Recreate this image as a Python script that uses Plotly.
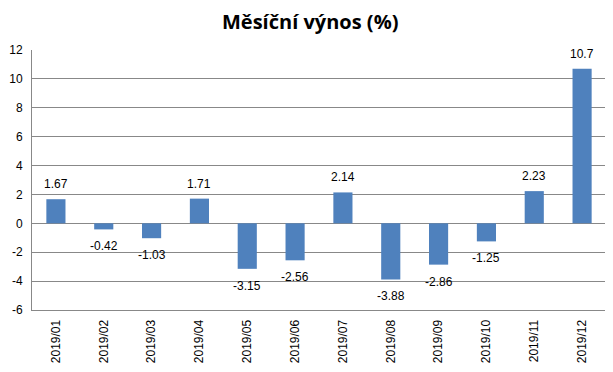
import plotly.graph_objects as go

months = ["2019/01", "2019/02", "2019/03", "2019/04", "2019/05", "2019/06",
          "2019/07", "2019/08", "2019/09", "2019/10", "2019/11", "2019/12"]
returns = [1.67, -0.42, -1.03, 1.71, -3.15, -2.56, 2.14, -3.88, -2.86, -1.25, 2.23, 10.7]
labels = ["1.67", "-0.42", "-1.03", "1.71", "-3.15", "-2.56", "2.14", "-3.88", "-2.86", "-1.25", "2.23", "10.7"]
y_ticks = [-6, -4, -2, 0, 2, 4, 6, 8, 10, 12]

fig = go.Figure(go.Bar(
    x=months, y=returns,
    marker=dict(color="#4F81BD", line=dict(width=0)),
))

for m, v, t in zip(months, returns, labels):
    fig.add_annotation(
        x=m, y=v, text=t, showarrow=False,
        yanchor="bottom" if v >= 0 else "top",
        yshift=6 if v >= 0 else -8,
        font=dict(family="Liberation Sans", size=12, color="#000000"),
    )

fig.update_layout(
    width=613, height=372,
    margin=dict(l=24, r=15, t=42, b=70),
    paper_bgcolor="white", plot_bgcolor="white",
    bargap=0.6,
    showlegend=False,
    title=dict(text="<b>Měsíční výnos (%)</b>", x=0.493, xanchor="center", y=0.962, yanchor="middle",
               font=dict(family="Open Sans", size=20, color="#000000")),
    font=dict(family="Liberation Sans", size=12, color="#000000"),
)
fig.update_yaxes(range=[-6, 12], tickvals=y_ticks, ticktext=[str(v) for v in y_ticks],
                 showgrid=True, gridcolor="#888888", gridwidth=1, automargin=False,
                 zeroline=False, showline=True, linecolor="#888888",
                 ticks="outside", ticklen=6, tickcolor="white", tickfont=dict(size=12))
fig.update_xaxes(tickangle=-90, showline=True, linecolor="#888888", showgrid=False,
                 automargin=False, ticks="outside", ticklen=4, tickcolor="white",
                 tickfont=dict(size=12), mirror=False)

fig.write_html("out.html")
